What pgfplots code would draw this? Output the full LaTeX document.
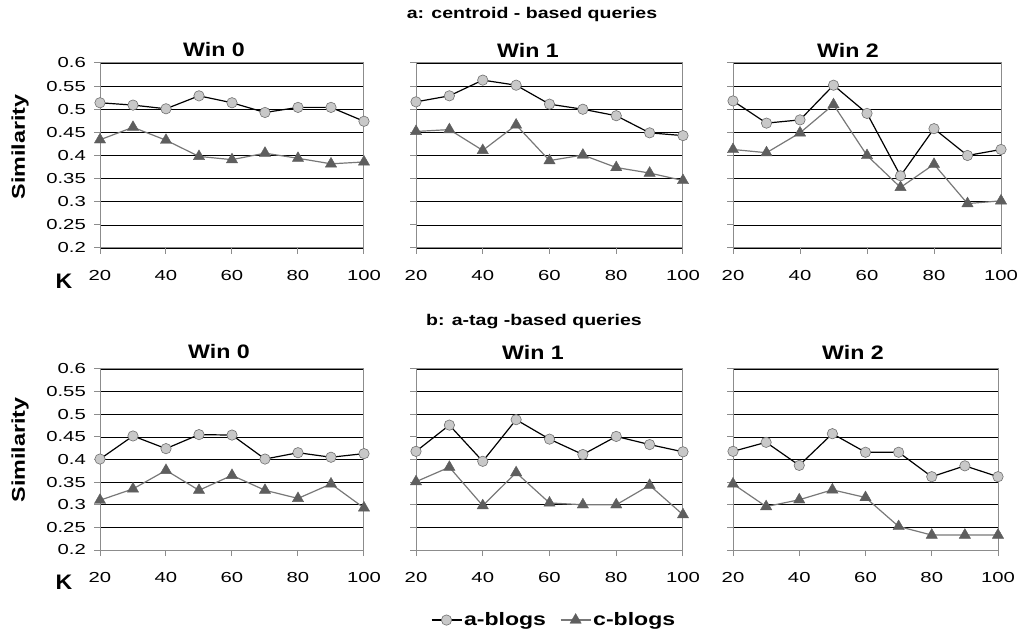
\documentclass[border=0pt]{standalone}
\usepackage{fontspec}
\setmainfont{Liberation Sans}
\usepackage{pgfplots}
\pgfplotsset{compat=1.18}

\definecolor{afill}{HTML}{C8C8C8}
\definecolor{aedge}{HTML}{707070}
\definecolor{cline}{HTML}{787878}
\definecolor{cfill}{HTML}{5E5E5E}
\definecolor{frame}{HTML}{8C8C8C}

% text in the source is stretched sideways
\newcommand\sx[2]{\scalebox{#1}[1]{#2}}
\newcommand\tk[1]{\scalebox{1.4}[1]{#1}}
\newcommand\tickfont{\fontsize{14.5}{17}\selectfont}

\pgfplotsset{
  panel/.style={
    anchor=south west, scale only axis,
    xmin=20, xmax=100, ymin=0.2, ymax=0.6,
    xtick={20,40,60,80,100}, xticklabels={\tk{20},\tk{40},\tk{60},\tk{80},\tk{100}},
    ytick={0.2,0.25,0.3,0.35,0.4,0.45,0.5,0.55,0.6},
    yticklabels={},
    ymajorgrids, grid style={black, line width=0.7pt},
    axis line style={frame, line width=1pt},
    tick style={frame, line width=1pt},
    tick align=outside, major tick length=6pt,
    xtick pos=bottom, ytick pos=left,
    ticklabel style={font=\tickfont},
    xticklabel style={anchor=north, inner sep=0pt, yshift=-16pt},
    yticklabel style={anchor=east, inner sep=0pt, xshift=-8pt},
    clip=false,
    legend image code/.code={\draw[mark repeat=2,mark phase=2] plot coordinates {(0pt,0pt) (15pt,0pt) (30pt,0pt)};},
  },
  leftpanel/.style={yticklabels={\tk{0.2},\tk{0.25},\tk{0.3},\tk{0.35},\tk{0.4},\tk{0.45},\tk{0.5},\tk{0.55},\tk{0.6}}},
  ablogs/.style={black, line width=1.2pt, mark=*, mark size=5.2pt,
    mark options={fill=afill, draw=aedge, line width=0.6pt}},
  cblogs/.style={cline, line width=1.2pt, mark=triangle*, mark size=6.5pt,
    mark options={fill=cfill, draw=cfill, line width=0.4pt}},
}

\begin{document}
\begin{tikzpicture}[x=1pt,y=1pt]
\path[use as bounding box] (0,0) rectangle (1023,635);

% a: centroid-based queries
\begin{axis}[panel, leftpanel, at={(100pt,387pt)}, width=264pt, height=185pt]
\addplot[ablogs] coordinates {(20,0.514) (30,0.509) (40,0.501) (50,0.529) (60,0.514) (70,0.493) (80,0.504) (90,0.504) (100,0.474)};
\addplot[cblogs] coordinates {(20,0.434) (30,0.461) (40,0.433) (50,0.398) (60,0.391) (70,0.405) (80,0.394) (90,0.382) (100,0.386)};
\end{axis}
\begin{axis}[panel, at={(416pt,387pt)}, width=267pt, height=185pt]
\addplot[ablogs] coordinates {(20,0.516) (30,0.529) (40,0.563) (50,0.552) (60,0.511) (70,0.500) (80,0.486) (90,0.449) (100,0.443)};
\addplot[cblogs] coordinates {(20,0.452) (30,0.456) (40,0.411) (50,0.466) (60,0.389) (70,0.401) (80,0.374) (90,0.362) (100,0.346)};
\end{axis}
\begin{axis}[panel, at={(733pt,387pt)}, width=268pt, height=185pt]
\addplot[ablogs] coordinates {(20,0.518) (30,0.470) (40,0.477) (50,0.552) (60,0.491) (70,0.356) (80,0.458) (90,0.400) (100,0.413)};
\addplot[cblogs] coordinates {(20,0.413) (30,0.406) (40,0.449) (50,0.510) (60,0.400) (70,0.331) (80,0.381) (90,0.296) (100,0.302)};
\end{axis}

% b: a-tag-based queries
\begin{axis}[panel, leftpanel, at={(100pt,85pt)}, width=264pt, height=181pt]
\addplot[ablogs] coordinates {(20,0.401) (30,0.452) (40,0.424) (50,0.455) (60,0.454) (70,0.401) (80,0.415) (90,0.405) (100,0.413)};
\addplot[cblogs] coordinates {(20,0.310) (30,0.335) (40,0.376) (50,0.332) (60,0.365) (70,0.332) (80,0.314) (90,0.346) (100,0.293)};
\end{axis}
\begin{axis}[panel, at={(416pt,85pt)}, width=267pt, height=181pt,
  legend style={at={(0.517,-0.387)}, anchor=center, draw=none, fill=none,
    legend columns=2, font=\fontsize{18}{20}\selectfont\bfseries,
    /tikz/every even column/.append style={column sep=12pt}},
  legend cell align=left]
\addplot[ablogs] coordinates {(20,0.418) (30,0.476) (40,0.396) (50,0.488) (60,0.445) (70,0.411) (80,0.451) (90,0.433) (100,0.417)};
\addplot[cblogs] coordinates {(20,0.351) (30,0.383) (40,0.298) (50,0.371) (60,0.304) (70,0.300) (80,0.300) (90,0.343) (100,0.278)};
\legend{\sx{1.28}{a-blogs}, \sx{1.28}{c-blogs}}
\end{axis}
\begin{axis}[panel, at={(733pt,85pt)}, width=265pt, height=181pt]
\addplot[ablogs] coordinates {(20,0.418) (30,0.438) (40,0.387) (50,0.457) (60,0.416) (70,0.416) (80,0.362) (90,0.386) (100,0.362)};
\addplot[cblogs] coordinates {(20,0.346) (30,0.296) (40,0.311) (50,0.333) (60,0.316) (70,0.252) (80,0.233) (90,0.233) (100,0.233)};
\end{axis}

% titles and labels
\tikzset{lab/.style={font=\fontsize{#1}{#1}\selectfont\bfseries}}
\node[lab=15.5] at (532,621) {\sx{1.26}{a: centroid - based queries}};
\node[lab=15.5] at (534,313) {\sx{1.26}{b: a-tag -based queries}};
\foreach \xx/\tt in {214/Win 0, 528/Win 1, 848/Win 2} {
  \node[lab=19.5] at (\xx,585) {\sx{1.19}{\tt}};
  \node[lab=19.5] at (\xx+5,283) {\sx{1.19}{\tt}};
}
\node[rotate=90, lab=18.5] at (20,488) {\sx{1.26}{Similarity}};
\node[rotate=90, lab=18.5] at (20,185) {\sx{1.26}{Similarity}};
\node[lab=21] at (64,354) {\sx{1.1}{K}};
\node[lab=21] at (64,53) {\sx{1.1}{K}};
\end{tikzpicture}
\end{document}
